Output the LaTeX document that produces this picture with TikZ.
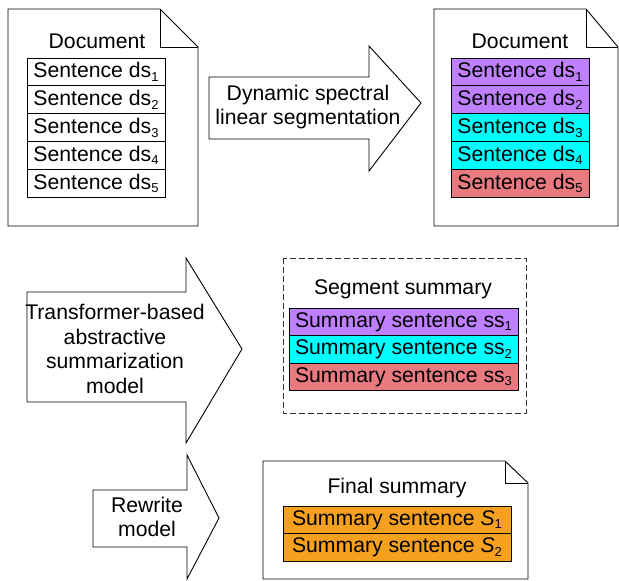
\documentclass[tikz,border=0pt]{standalone}
\usepackage{fontspec}
\setmainfont{Liberation Sans}
\definecolor{cpurple}{RGB}{191,128,255}
\definecolor{ccyan}{RGB}{0,255,255}
\definecolor{cred}{RGB}{232,122,128}
\definecolor{corange}{RGB}{246,160,32}
\newcommand{\mysub}[1]{\raisebox{-0.32ex}{\fontsize{13}{13}\selectfont #1}}
\begin{document}
\begin{tikzpicture}[x=1pt,y=-1pt,line join=miter,
  shape outline/.style={draw=black,line width=0.9pt,fill=white},
  rowbox/.style={draw=black,line width=0.9pt,minimum height=27.8pt,inner sep=0pt,outer sep=0pt,
    font=\fontsize{21.2}{24}\selectfont},
  lbl/.style={inner sep=0pt,align=center,font=\fontsize{21.2}{24.5}\selectfont}]
\useasboundingbox (0,0) rectangle (619,581);

% ---------- Document 1 ----------
\draw[shape outline] (8,9) -- (160,9) -- (198,47) -- (198,226) -- (8,226) -- cycle;
\draw[line width=0.9pt] (160,9) -- (160,47) -- (198,47);
\node[lbl] (d1t) at (97,41) {Document};
\foreach \i/\y in {1/72,2/99.8,3/127.6,4/155.4,5/183.2}{
  \node[rowbox,minimum width=138pt,fill=white] (d1r\i) at (96,\y) {Sentence ds\mysub{\i}};
}

% ---------- Arrow 1 ----------
\draw[shape outline] (209,77) -- (369,77) -- (369,46) -- (421,103) -- (369,171) -- (369,139) -- (209,139) -- cycle;
\node[lbl] (a1) at (308,107) {Dynamic spectral\\linear segmentation};

% ---------- Document 2 ----------
\draw[shape outline] (434,9) -- (586,9) -- (618,47) -- (618,226) -- (434,226) -- cycle;
\draw[line width=0.9pt] (586,9) -- (586,47) -- (618,47);
\node[lbl] (d2t) at (520,41) {Document};
\foreach \i/\y/\c in {1/72/cpurple,2/99.8/cpurple,3/127.6/ccyan,4/155.4/ccyan,5/183.2/cred}{
  \node[rowbox,minimum width=138pt,fill=\c] (d2r\i) at (520,\y) {Sentence ds\mysub{\i}};
}

% ---------- Arrow 2 ----------
\draw[shape outline] (27,292) -- (186,292) -- (186,258) -- (242,349) -- (186,443) -- (186,402) -- (27,402) -- cycle;
\node[lbl] (a2) at (115,349) {Transformer-based\\abstractive\\summarization\\model};

% ---------- Segment summary ----------
\draw[line width=0.9pt,dash pattern=on 6pt off 3pt,draw=black!80] (283,258) rectangle (526,413);
\node[lbl] (sst) at (403,289) {Segment summary};
\node[rowbox,minimum width=229pt,fill=cpurple] (ss1) at (403.5,322) {Summary sentence ss\mysub{1}};
\node[rowbox,minimum width=229pt,fill=ccyan] (ss2) at (403.5,349.5) {Summary sentence ss\mysub{2}};
\node[rowbox,minimum width=229pt,fill=cred] (ss3) at (403.5,377) {Summary sentence ss\mysub{3}};

% ---------- Arrow 3 ----------
\draw[shape outline] (93,490) -- (187,490) -- (187,455) -- (219,518) -- (187,579) -- (187,547) -- (93,547) -- cycle;
\node[lbl] (a3) at (147,517) {Rewrite\\model};

% ---------- Final summary ----------
\draw[shape outline] (263,461) -- (505,461) -- (528,483) -- (528,579) -- (263,579) -- cycle;
\draw[line width=0.9pt] (505,461) -- (505,483) -- (528,483);
\node[lbl] (fst) at (397,488) {Final summary};
\node[rowbox,minimum width=228pt,fill=corange] (fs1) at (397,520) {Summary sentence \textit{S}\mysub{1}};
\node[rowbox,minimum width=228pt,fill=corange] (fs2) at (397,547.5) {Summary sentence \textit{S}\mysub{2}};
\end{tikzpicture}
\end{document}
